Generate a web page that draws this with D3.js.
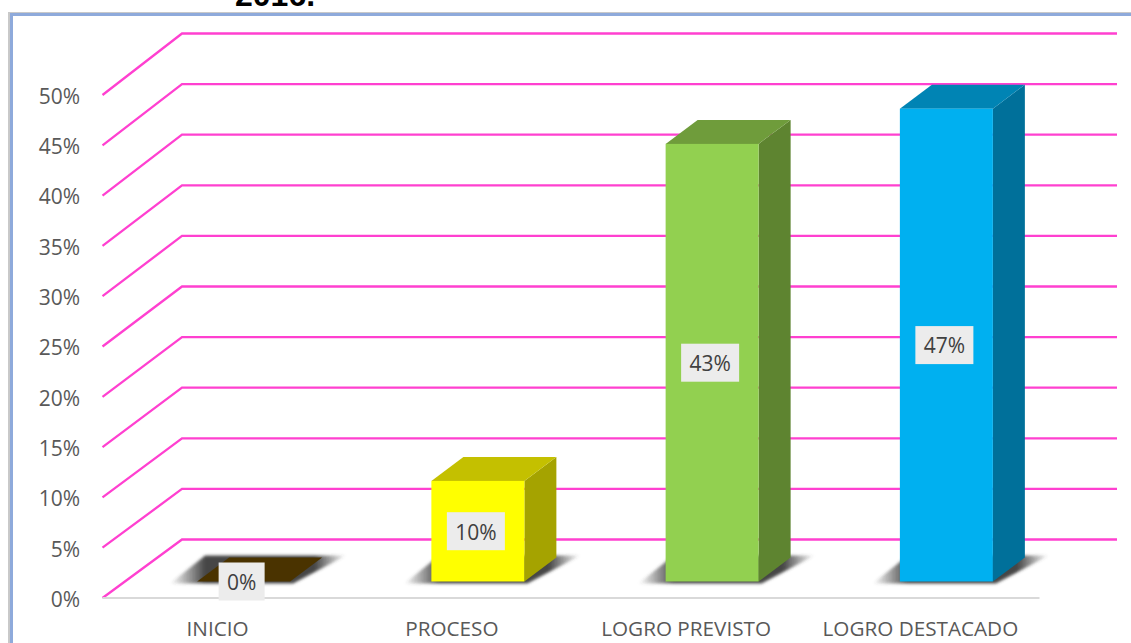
<!DOCTYPE html>
<html>
<head>
<meta charset="utf-8">
<script src="https://cdn.jsdelivr.net/npm/d3@7"></script>
<style>
  html, body { margin: 0; padding: 0; background: #fff; overflow: hidden; }
  svg { display: block; }
</style>
</head>
<body>
<div id="container"></div>
<script>
// values
let categories = ["INICIO", "PROCESO", "LOGRO PREVISTO", "LOGRO DESTACADO"];
let values = [0, 10, 43.5, 47];
let valueLabels = ["0%", "10%", "43%", "47%"];
let ticks = [0, 5, 10, 15, 20, 25, 30, 35, 40, 45, 50];
let frontColors = ["#4a3300", "#ffff00", "#92d050", "#00b0f0"];
let topColors = ["#4a3300", "#c4c000", "#6f9c3b", "#0084b4"];
let sideColors = ["#4a3300", "#a5a300", "#5e8430", "#00709a"];

let w = 1131;
let h = 643;
let labelFont = "'Open Sans', sans-serif";

// depth of the bars
let barDx = 32;
let barDy = 24;
let barInset = 16.5;
let barWidth = 93;
let barShift = 24;

let viz = d3.select("#container")
  .append("svg")
    .attr("width", w)
    .attr("height", h)
;

let xScale = d3.scaleBand().domain(categories).range([102.5, 1039.5]);
let yScale = d3.scaleLinear().domain([0, 50]).range([598, 95]);
// same values on the back wall
let backScale = d3.scaleLinear().domain([0, 50]).range([539.5, 33.5]);
let wallX = 182;

// frame of the picture, only top and left are in view
viz.append("path")
  .attr("d", "M9,643V13H1131")
  .attr("fill", "none")
  .attr("stroke", "#c9c9c9")
  .attr("stroke-width", 2)
;
viz.append("path")
  .attr("d", "M11.5,643V14.5H1131")
  .attr("fill", "none")
  .attr("stroke", "#8eaadb")
  .attr("stroke-width", 3)
;

// what is left of the title
viz.append("text")
  .text("2016.")
  .attr("x", 235)
  .attr("y", 6)
  .attr("font-family", "'Liberation Sans', Arial, sans-serif")
  .attr("font-weight", "bold")
  .attr("font-size", "32px")
  .attr("fill", "#000")
;

// shadow defs
let defs = viz.append("defs");
defs.append("filter").attr("id", "soft")
    .attr("x", "-20%").attr("y", "-30%").attr("width", "140%").attr("height", "160%")
  .append("feGaussianBlur").attr("stdDeviation", 1.8)
;
let grad = defs.append("linearGradient").attr("id", "shadowFade");
grad.append("stop").attr("offset", "0%").attr("stop-color", "#3c3c3c").attr("stop-opacity", 0);
grad.append("stop").attr("offset", "20%").attr("stop-color", "#3c3c3c").attr("stop-opacity", 0.95);
grad.append("stop").attr("offset", "82%").attr("stop-color", "#3c3c3c").attr("stop-opacity", 0.95);
grad.append("stop").attr("offset", "100%").attr("stop-color", "#3c3c3c").attr("stop-opacity", 0);

// pink gridlines, along the floor side and then the back wall
let grid = viz.append("g").attr("class", "grid");
grid.selectAll("path").data(ticks).enter().append("path")
  .attr("d", function(d, i){
    return "M" + xScale.range()[0] + "," + yScale(d)
      + "L" + wallX + "," + backScale(d)
      + "H1117";
  })
  .attr("fill", "none")
  .attr("stroke", "#ff40d0")
  .attr("stroke-width", 2.3)
;

// y labels
viz.append("g").selectAll("text").data(ticks).enter().append("text")
  .text(function(d, i){ return d + "%"; })
  .attr("x", 80)
  .attr("y", function(d, i){ return yScale(d); })
  .attr("dy", "0.42em")
  .attr("text-anchor", "end")
  .attr("font-family", labelFont)
  .attr("font-size", "21px")
  .attr("fill", "#595959")
;

// floor line and category labels
viz.append("line")
  .attr("x1", xScale.range()[0])
  .attr("x2", xScale.range()[1])
  .attr("y1", yScale(0))
  .attr("y2", yScale(0))
  .attr("stroke", "#d9d9d9")
  .attr("stroke-width", 2)
;
viz.append("g").selectAll("text").data(categories).enter().append("text")
  .text(function(d, i){ return d; })
  .attr("x", function(d, i){ return xScale(d) + xScale.bandwidth() / 2 - 2; })
  .attr("y", 636)
  .attr("text-anchor", "middle")
  .attr("font-family", labelFont)
  .attr("font-size", "20.7px")
  .attr("fill", "#595959")
;

function barLeft(d){
  return xScale(d) + xScale.bandwidth() / 2 + barShift - barWidth / 2;
}
let floorY = yScale(0) - barInset;
function barTop(i){
  return floorY - (yScale(0) - yScale(values[i]));
}

// shadows
viz.append("g").selectAll("path").data(categories).enter().append("path")
  .attr("d", function(d, i){
    let x0 = barLeft(d);
    let x1 = x0 + barWidth;
    return "M" + (x0 - 27) + "," + (floorY + 2)
      + "L" + (x0 + 8) + "," + (floorY - barDy - 2)
      + "H" + (x1 + barDx + 24)
      + "L" + (x1 + 3) + "," + (floorY + 2)
      + "Z";
  })
  .attr("fill", "url(#shadowFade)")
  .attr("filter", "url(#soft)")
;

// bars: side, top, front
let bars = viz.append("g").selectAll("g").data(categories).enter().append("g");
bars.append("path")
  .attr("d", function(d, i){
    let x1 = barLeft(d) + barWidth;
    let t = barTop(i);
    return "M" + x1 + "," + t + "L" + (x1 + barDx) + "," + (t - barDy)
      + "V" + (floorY - barDy) + "L" + x1 + "," + floorY + "Z";
  })
  .attr("fill", function(d, i){ return sideColors[i]; })
;
bars.append("path")
  .attr("d", function(d, i){
    let x0 = barLeft(d);
    let t = barTop(i);
    return "M" + x0 + "," + t + "L" + (x0 + barDx) + "," + (t - barDy)
      + "H" + (x0 + barWidth + barDx) + "L" + (x0 + barWidth) + "," + t + "Z";
  })
  .attr("fill", function(d, i){ return topColors[i]; })
;
bars.append("rect")
  .attr("x", function(d, i){ return barLeft(d); })
  .attr("y", function(d, i){ return barTop(i); })
  .attr("width", barWidth)
  .attr("height", function(d, i){ return floorY - barTop(i); })
  .attr("fill", function(d, i){ return frontColors[i]; })
;

// value labels with their grey box
let labels = viz.append("g").selectAll("g").data(categories).enter().append("g")
  .attr("transform", function(d, i){
    let x = barLeft(d) + barWidth / 2 - 2;
    let y = (barTop(i) + floorY) / 2;
    return "translate(" + x + "," + y + ")";
  })
;
labels.append("rect")
  .attr("x", function(d, i){ return i == 0 ? -23 : -29; })
  .attr("y", -19)
  .attr("width", function(d, i){ return i == 0 ? 46 : 58; })
  .attr("height", 38)
  .attr("fill", "#ececec")
;
labels.append("text")
  .text(function(d, i){ return valueLabels[i]; })
  .attr("dy", "0.4em")
  .attr("text-anchor", "middle")
  .attr("font-family", labelFont)
  .attr("font-size", "21px")
  .attr("fill", "#404040")
;
</script>
</body>
</html>
